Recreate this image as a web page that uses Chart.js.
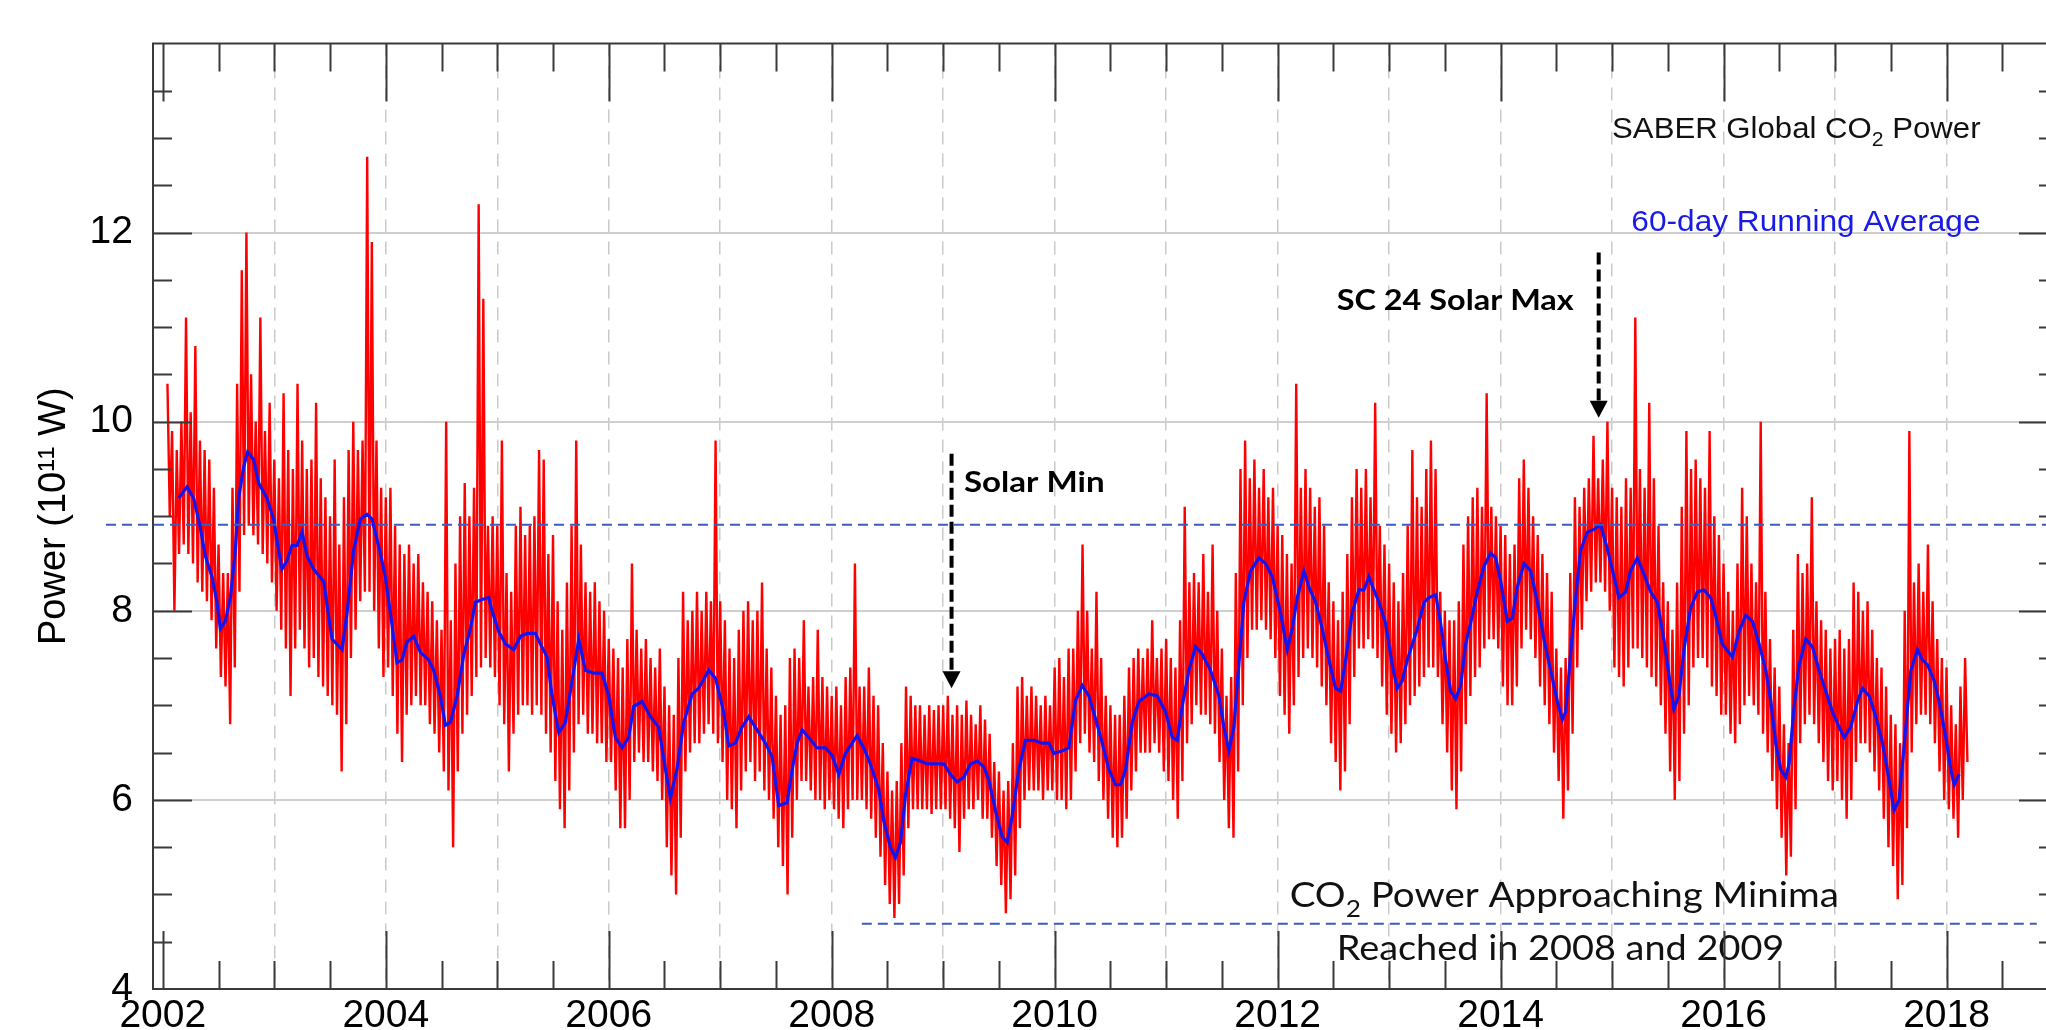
<!DOCTYPE html>
<html>
<head>
<meta charset="utf-8">
<title>SABER Global CO2 Power</title>
<script src="https://cdn.jsdelivr.net/npm/chart.js@4.4.1/dist/chart.umd.min.js"></script>
<style>
  html, body { margin: 0; padding: 0; background: #fff; overflow: hidden; }
  #wrap { position: absolute; left: 0; top: 0; width: 2058px; height: 1040px; }
</style>
</head>
<body>
<div id="wrap"><canvas id="powerChart" width="2058" height="1040"></canvas></div>
<script>
// ---- axis ticks ----
const tickYears = [2002, 2003, 2004, 2005, 2006, 2007, 2008, 2009, 2010, 2011, 2012, 2013, 2014, 2015, 2016, 2017, 2018];
const labelYears = [2002, 2004, 2006, 2008, 2010, 2012, 2014, 2016, 2018];
const powerTicks = [4, 6, 8, 10, 12, 14];

// ---- daily CO2 power (10^11 W), read as half-month high / low envelope ----
const redStart = 2002 + 1 / 24;
const redStep = 1 / 24;
const redHigh = [
  /* 2002 */ 10.4, 9.9, 9.7, 10.0, 11.1, 10.1, 10.8, 9.8, 9.7, 9.6, 9.3, 8.7, 8.4, 8.4, 9.3, 10.4, 11.6, 12.0, 10.5, 10.0, 11.1, 9.9, 10.2,
  /* 2003 */ 9.6, 9.4, 10.3, 9.7, 9.5, 10.4, 9.8, 9.5, 9.6, 10.2, 9.4, 9.2, 9.0, 9.6, 8.7, 9.2, 9.7, 10.0, 9.7, 9.8, 12.8, 11.9, 9.8, 9.3,
  /* 2004 */ 9.2, 9.3, 8.9, 8.7, 8.6, 8.7, 8.5, 8.6, 8.3, 8.2, 8.1, 7.9, 7.8, 10.0, 7.9, 8.5, 9.0, 9.35, 9.0, 9.3, 12.3, 11.3, 8.9, 9.0,
  /* 2005 */ 8.9, 9.8, 8.4, 8.2, 8.9, 9.1, 8.8, 8.9, 9.0, 9.7, 9.6, 8.6, 8.8, 8.1, 7.8, 8.3, 8.9, 9.8, 8.7, 8.3, 8.2, 8.3, 8.1, 8.0,
  /* 2006 */ 7.7, 7.6, 7.5, 7.4, 7.7, 8.5, 7.8, 7.6, 7.7, 7.5, 7.4, 7.6, 7.2, 7.0, 6.9, 7.5, 8.2, 7.9, 8.0, 8.2, 8.0, 8.2, 8.1, 9.8,
  /* 2007 */ 8.1, 7.9, 7.6, 7.5, 7.8, 8.0, 8.1, 7.9, 8.0, 8.3, 7.6, 7.4, 7.1, 6.9, 7.0, 7.5, 7.6, 7.5, 7.9, 7.2, 7.3, 7.8, 7.3, 7.2,
  /* 2008 */ 7.1, 7.2, 7.0, 7.3, 7.4, 8.5, 7.2, 7.2, 7.4, 7.1, 7.0, 6.6, 6.3, 6.1, 6.2, 6.6, 7.2, 7.1, 7.0, 7.0, 6.9, 7.0, 6.95, 7.0,
  /* 2009 */ 7.0, 7.1, 6.9, 7.0, 6.9, 7.05, 6.9, 6.8, 7.0, 6.85, 6.7, 6.4, 6.3, 6.1, 6.2, 6.6, 7.2, 7.3, 7.1, 7.2, 7.1, 7.0, 7.1, 7.0,
  /* 2010 */ 7.4, 7.5, 7.3, 7.6, 7.6, 8.0, 8.7, 8.0, 7.6, 8.2, 7.5, 7.1, 7.0, 6.9, 6.9, 7.1, 7.4, 7.5, 7.6, 7.5, 7.6, 7.9, 7.5, 7.6,
  /* 2011 */ 7.7, 7.5, 7.4, 7.9, 9.1, 8.3, 8.4, 8.3, 8.6, 8.2, 8.7, 8.0, 7.6, 7.1, 7.3, 8.4, 9.5, 9.8, 9.4, 9.6, 9.3, 9.5, 9.2, 9.3,
  /* 2012 */ 8.9, 8.8, 8.6, 8.5, 10.4, 9.3, 9.5, 9.3, 9.1, 9.2, 8.9, 8.3, 8.1, 7.9, 8.2, 8.6, 9.2, 9.5, 9.3, 9.5, 9.2, 10.2, 8.9, 8.7,
  /* 2013 */ 8.5, 8.3, 8.1, 8.4, 8.9, 9.7, 9.2, 9.1, 9.5, 9.8, 9.5, 8.2, 8.0, 7.9, 7.9, 8.1, 8.7, 9.0, 9.2, 9.3, 9.1, 10.3, 9.1, 9.0,
  /* 2014 */ 8.9, 8.8, 8.6, 8.7, 9.4, 9.6, 9.3, 9.0, 8.8, 8.6, 8.4, 8.2, 7.6, 7.4, 7.5, 8.4, 9.2, 9.1, 9.3, 9.4, 9.85, 9.4, 9.6, 10.0,
  /* 2015 */ 9.3, 9.2, 9.1, 9.4, 9.3, 11.1, 9.5, 9.3, 10.2, 9.4, 8.9, 8.3, 8.1, 7.8, 8.3, 9.1, 9.9, 9.5, 9.6, 9.4, 9.3, 9.9, 9.0, 8.8,
  /* 2016 */ 8.5, 8.2, 8.0, 8.5, 9.3, 9.0, 8.5, 8.3, 10.0, 8.2, 7.7, 7.4, 7.2, 6.8, 6.6, 7.8, 8.6, 8.4, 8.5, 9.2, 8.1, 7.9, 7.8, 7.6,
  /* 2017 */ 7.7, 7.8, 7.6, 7.7, 8.3, 8.2, 8.0, 8.1, 7.8, 7.5, 7.4, 7.2, 6.9, 6.8, 6.6, 8.0, 9.9, 8.3, 8.5, 8.2, 8.7, 8.1, 7.7, 7.5,
  /* 2018 */ 7.4, 7.0, 6.8, 7.2, 7.5
];
const redLow = [
  /* 2002 */ 9.0, 8.0, 8.6, 8.7, 8.6, 8.5, 8.3, 8.2, 8.1, 7.9, 7.6, 7.3, 7.2, 6.8, 7.4, 8.2, 8.8, 8.9, 8.8, 8.7, 8.6, 8.5, 8.3,
  /* 2003 */ 8.0, 7.8, 7.6, 7.1, 7.6, 7.8, 7.6, 7.4, 7.5, 7.3, 7.2, 7.1, 7.0, 6.9, 6.3, 6.8, 7.5, 7.8, 8.1, 8.2, 8.2, 8.0, 7.6, 7.3,
  /* 2004 */ 7.4, 7.1, 6.7, 6.4, 6.9, 7.0, 7.1, 7.0, 7.0, 6.8, 6.7, 6.5, 6.3, 6.1, 5.5, 6.3, 6.7, 6.9, 7.1, 7.3, 7.4, 7.5, 7.4, 7.3,
  /* 2005 */ 7.0, 6.8, 6.3, 6.7, 6.9, 7.0, 7.0, 6.9, 7.0, 6.9, 6.7, 6.5, 6.2, 5.9, 5.7, 6.1, 6.5, 6.8, 6.9, 6.7, 6.7, 6.6, 6.6, 6.4,
  /* 2006 */ 6.4, 6.1, 5.7, 5.7, 6.0, 6.4, 6.5, 6.4, 6.4, 6.3, 6.2, 6.0, 5.5, 5.2, 5.0, 5.6, 6.3, 6.5, 6.6, 6.6, 6.7, 6.8, 6.7, 6.6,
  /* 2007 */ 6.4, 6.0, 5.9, 5.7, 6.1, 6.3, 6.4, 6.2, 6.3, 6.1, 6.0, 5.8, 5.5, 5.3, 5.0, 5.6, 6.0, 6.2, 6.2, 6.1, 6.0, 6.0, 5.9, 6.0,
  /* 2008 */ 5.9, 5.8, 5.7, 5.9, 6.0, 6.0, 6.0, 5.9, 5.8, 5.6, 5.4, 5.1, 4.9, 4.75, 4.9, 5.2, 5.7, 5.9, 5.9, 5.9, 5.9, 5.85, 5.9, 5.9,
  /* 2009 */ 5.9, 5.8, 5.7, 5.45, 5.8, 5.9, 5.9, 6.0, 5.8, 5.8, 5.6, 5.3, 5.1, 4.8, 4.95, 5.2, 5.7, 6.0, 6.1, 6.1, 6.1, 6.0, 6.1, 6.1,
  /* 2010 */ 6.0, 6.0, 5.9, 6.0, 6.3, 6.6, 6.7, 6.5, 6.4, 6.2, 6.0, 5.8, 5.6, 5.5, 5.6, 5.8, 6.1, 6.3, 6.5, 6.5, 6.5, 6.6, 6.5, 6.3,
  /* 2011 */ 6.2, 6.0, 5.8, 6.2, 6.6, 6.8, 7.0, 6.9, 6.9, 6.8, 6.7, 6.4, 6.0, 5.7, 5.6, 6.3, 7.0, 7.5, 7.8, 7.8, 7.9, 7.8, 7.7, 7.5,
  /* 2012 */ 7.1, 6.9, 6.7, 7.0, 7.3, 7.5, 7.6, 7.5, 7.4, 7.2, 7.0, 6.6, 6.4, 6.1, 6.3, 6.8, 7.3, 7.6, 7.6, 7.7, 7.6, 7.5, 7.2, 6.9,
  /* 2013 */ 6.7, 6.5, 6.6, 6.8, 7.0, 7.1, 7.2, 7.3, 7.4, 7.4, 7.3, 6.8, 6.5, 6.1, 5.9, 6.3, 6.8, 7.1, 7.3, 7.4, 7.6, 7.7, 7.7, 7.6,
  /* 2014 */ 7.2, 7.0, 7.0, 7.2, 7.6, 7.8, 7.7, 7.5, 7.2, 7.0, 6.8, 6.5, 6.2, 5.8, 6.1, 6.7, 7.4, 7.8, 8.1, 8.2, 8.3, 8.3, 8.2, 8.0,
  /* 2015 */ 7.4, 7.3, 7.2, 7.4, 7.6, 7.6, 7.5, 7.4, 7.3, 7.2, 7.0, 6.7, 6.3, 6.0, 6.2, 6.7, 7.0, 7.4, 7.5, 7.5, 7.4, 7.2, 7.1, 6.9,
  /* 2016 */ 6.9, 6.7, 6.6, 6.8, 7.0, 7.1, 7.0, 6.9, 6.7, 6.5, 6.2, 5.9, 5.6, 5.2, 5.4, 5.9, 6.6, 6.8, 6.9, 6.8, 6.6, 6.4, 6.2, 6.1,
  /* 2017 */ 6.2, 6.0, 5.8, 6.0, 6.4, 6.6, 6.6, 6.5, 6.3, 6.1, 5.8, 5.5, 5.3, 4.95, 5.1, 5.7, 6.5, 6.8, 6.9, 6.9, 6.8, 6.6, 6.3, 6.0,
  /* 2018 */ 5.9, 5.8, 5.6, 6.0, 6.4
];

// ---- 60-day running average ----
const blueYears = [
  2002.142, 2002.217, 2002.277, 2002.336, 2002.381, 2002.441, 2002.486, 2002.516, 2002.561, 2002.606, 2002.651, 2002.680, 2002.725, 2002.761, 2002.815, 2002.860, 2002.935, 2002.994,
  2003.039, 2003.069, 2003.114, 2003.159, 2003.204, 2003.249, 2003.294, 2003.353, 2003.443, 2003.518, 2003.608, 2003.653, 2003.712, 2003.772, 2003.832, 2003.877, 2003.951, 2003.996,
  2004.041, 2004.101, 2004.146, 2004.191, 2004.251, 2004.311, 2004.385, 2004.430, 2004.490, 2004.535, 2004.580, 2004.640, 2004.700, 2004.759, 2004.804, 2004.864, 2004.924, 2004.953,
  2005.013, 2005.073, 2005.148, 2005.208, 2005.267, 2005.342, 2005.387, 2005.447, 2005.492, 2005.552, 2005.611, 2005.671, 2005.731, 2005.791, 2005.866, 2005.940,
  2006.000, 2006.060, 2006.120, 2006.179, 2006.224, 2006.299, 2006.374, 2006.448, 2006.508, 2006.553, 2006.613, 2006.673, 2006.748, 2006.807, 2006.897, 2006.957,
  2007.031, 2007.076, 2007.136, 2007.196, 2007.256, 2007.315, 2007.405, 2007.465, 2007.525, 2007.600, 2007.645, 2007.690, 2007.735, 2007.795, 2007.869, 2007.944,
  2008.004, 2008.064, 2008.123, 2008.183, 2008.228, 2008.288, 2008.347, 2008.422, 2008.467, 2008.527, 2008.572, 2008.617, 2008.662, 2008.721, 2008.796, 2008.856, 2008.931,
  2009.006, 2009.065, 2009.125, 2009.185, 2009.245, 2009.305, 2009.364, 2009.409, 2009.469, 2009.529, 2009.574, 2009.619, 2009.679, 2009.738, 2009.813, 2009.888, 2009.948, 2009.993,
  2010.067, 2010.127, 2010.187, 2010.247, 2010.307, 2010.366, 2010.427, 2010.487, 2010.546, 2010.591, 2010.636, 2010.696, 2010.756, 2010.845, 2010.920, 2010.995,
  2011.055, 2011.100, 2011.144, 2011.204, 2011.264, 2011.324, 2011.398, 2011.473, 2011.518, 2011.563, 2011.608, 2011.652, 2011.697, 2011.757, 2011.832, 2011.892, 2011.952,
  2012.026, 2012.086, 2012.131, 2012.176, 2012.236, 2012.281, 2012.341, 2012.400, 2012.460, 2012.520, 2012.565, 2012.610, 2012.669, 2012.729, 2012.774, 2012.819, 2012.864, 2012.909, 2012.968,
  2013.028, 2013.073, 2013.118, 2013.163, 2013.253, 2013.313, 2013.358, 2013.418, 2013.462, 2013.507, 2013.552, 2013.597, 2013.642, 2013.687, 2013.731, 2013.791, 2013.851, 2013.911, 2013.956,
  2014.001, 2014.061, 2014.105, 2014.150, 2014.210, 2014.270, 2014.330, 2014.389, 2014.449, 2014.509, 2014.554, 2014.584, 2014.628, 2014.673, 2014.718, 2014.778, 2014.838, 2014.897, 2014.957,
  2015.017, 2015.062, 2015.122, 2015.166, 2015.226, 2015.286, 2015.346, 2015.406, 2015.465, 2015.510, 2015.555, 2015.600, 2015.645, 2015.705, 2015.764, 2015.824, 2015.884, 2015.929, 2015.988,
  2016.080, 2016.139, 2016.199, 2016.259, 2016.319, 2016.379, 2016.424, 2016.468, 2016.513, 2016.558, 2016.588, 2016.633, 2016.678, 2016.738, 2016.797, 2016.857, 2016.917, 2016.977,
  2017.037, 2017.082, 2017.141, 2017.201, 2017.246, 2017.306, 2017.366, 2017.426, 2017.485, 2017.530, 2017.575, 2017.635, 2017.680, 2017.740, 2017.784, 2017.829, 2017.889, 2017.934, 2017.994,
  2018.039, 2018.069, 2018.113
];
const bluePower = [
  9.19, 9.31, 9.19, 8.88, 8.58, 8.36, 8.09, 7.81, 7.89, 8.14, 8.64, 9.19, 9.52, 9.68, 9.60, 9.35, 9.19, 8.97,
  8.64, 8.44, 8.53, 8.69, 8.69, 8.83, 8.58, 8.44, 8.31, 7.70, 7.59, 7.98, 8.64, 8.97, 9.02, 8.97, 8.61, 8.36,
  7.98, 7.45, 7.48, 7.67, 7.73, 7.56, 7.48, 7.37, 7.10, 6.79, 6.82, 7.10, 7.54, 7.81, 8.09, 8.12, 8.14, 8.00,
  7.78, 7.65, 7.59, 7.73, 7.76, 7.76, 7.65, 7.51, 7.10, 6.71, 6.82, 7.26, 7.70, 7.37, 7.34, 7.34,
  7.10, 6.66, 6.55, 6.66, 6.99, 7.04, 6.88, 6.77, 6.33, 6.02, 6.33, 6.82, 7.12, 7.18, 7.37, 7.29,
  6.93, 6.57, 6.60, 6.77, 6.88, 6.77, 6.60, 6.46, 5.94, 5.97, 6.32, 6.60, 6.74, 6.66, 6.55, 6.55,
  6.47, 6.27, 6.49, 6.60, 6.68, 6.55, 6.38, 6.11, 5.78, 5.50, 5.39, 5.55, 6.05, 6.44, 6.41, 6.38, 6.38,
  6.38, 6.27, 6.19, 6.24, 6.38, 6.41, 6.35, 6.21, 5.89, 5.61, 5.55, 5.83, 6.32, 6.63, 6.63, 6.60, 6.60, 6.49,
  6.52, 6.55, 7.05, 7.21, 7.10, 6.86, 6.60, 6.32, 6.16, 6.16, 6.32, 6.82, 7.04, 7.12, 7.10, 6.93,
  6.66, 6.63, 6.99, 7.37, 7.62, 7.54, 7.37, 7.10, 6.77, 6.52, 6.77, 7.43, 8.09, 8.42, 8.56, 8.50, 8.36,
  7.98, 7.59, 7.81, 8.14, 8.42, 8.25, 8.09, 7.81, 7.48, 7.18, 7.15, 7.48, 7.98, 8.22, 8.22, 8.36, 8.22, 8.09, 7.87,
  7.43, 7.18, 7.26, 7.48, 7.81, 8.09, 8.14, 8.17, 7.87, 7.48, 7.15, 7.07, 7.21, 7.65, 7.87, 8.20, 8.47, 8.61, 8.56,
  8.31, 7.89, 7.92, 8.25, 8.50, 8.42, 8.09, 7.70, 7.37, 7.04, 6.85, 6.93, 7.54, 8.14, 8.64, 8.83, 8.86, 8.91, 8.66,
  8.36, 8.14, 8.20, 8.42, 8.56, 8.39, 8.20, 8.09, 7.70, 7.32, 6.96, 7.10, 7.59, 8.03, 8.20, 8.22, 8.14, 7.95, 7.65,
  7.51, 7.78, 7.95, 7.89, 7.65, 7.37, 7.04, 6.60, 6.32, 6.24, 6.38, 6.99, 7.43, 7.70, 7.62, 7.37, 7.15, 6.93,
  6.77, 6.66, 6.77, 7.04, 7.18, 7.10, 6.88, 6.60, 6.21, 5.89, 6.00, 6.77, 7.37, 7.59, 7.48, 7.43, 7.26, 7.04, 6.66,
  6.32, 6.16, 6.27
];

// ---- dashed reference levels ----
const refPower = [8.91, 4.69];
const refFrom = [2001.49, 2008.27];
const refTo = [2019.2, 2018.81];

// ---- arrows (year, top value, tip value) ----
const arrowYears = [2009.075, 2014.88];
const arrowTop = [9.66, 11.79];
const arrowTip = [7.18, 10.04];

// ---- text annotations, anchored in data units (left year, right year, baseline) ----
const notes = [
  { parts: [{ t: 'SABER Global CO' }, { t: '2', sub: true }, { t: ' Power' }], x0: 2015.0, x1: 2018.305, base: 13.0,
    family: '"Liberation Sans", Arial, sans-serif', weight: 400, size: 30, color: '#111111' },
  { parts: [{ t: '60-day Running Average' }], x0: 2015.173, x1: 2018.305, base: 12.016,
    family: '"Liberation Sans", Arial, sans-serif', weight: 400, size: 30, color: '#1a1ae6' },
  { parts: [{ t: 'SC 24 Solar Max' }], x0: 2012.53, x1: 2014.656, base: 11.18,
    family: 'Lato, "Open Sans", sans-serif', weight: 700, size: 28, color: '#000000' },
  { parts: [{ t: 'Solar Min' }], x0: 2009.186, x1: 2010.448, base: 9.259,
    family: 'Lato, "Open Sans", sans-serif', weight: 700, size: 29, color: '#000000' },
  { parts: [{ t: 'CO' }, { t: '2', sub: true }, { t: ' Power Approaching Minima' }], x0: 2012.108, x1: 2017.034, base: 4.862,
    family: 'Lato, "Open Sans", sans-serif', weight: 400, size: 35, color: '#111111' },
  { parts: [{ t: 'Reached in 2008 and 2009' }], x0: 2012.53, x1: 2016.545, base: 4.31,
    family: 'Lato, "Open Sans", sans-serif', weight: 400, size: 35, color: '#111111' }
];

// build point lists from the arrays
const redPoints = [];
for (let i = 0; i < Math.min(redHigh.length, redLow.length); i++) {
  const t = redStart + i * redStep;
  redPoints.push({ x: t, y: redHigh[i] });
  redPoints.push({ x: t + redStep / 2, y: redLow[i] });
}
const bluePoints = blueYears.map((t, i) => ({ x: t, y: bluePower[i] }));
const refSets = refPower.map((v, i) => ({
  data: [{ x: refFrom[i], y: v }, { x: refTo[i], y: v }],
  borderColor: '#3d5cc0',
  borderWidth: 2,
  borderDash: [10, 6],
  pointRadius: 0,
  clip: false,
  order: 0
}));

function drawNote(ctx, note, xs, ys) {
  const left = xs.getPixelForValue(note.x0);
  const right = xs.getPixelForValue(note.x1);
  const base = ys.getPixelForValue(note.base);
  const subSize = note.size * 0.68;
  const fontFor = (p) => `${note.weight} ${p.sub ? subSize : note.size}px ${note.family}`;
  const widths = note.parts.map(p => { ctx.font = fontFor(p); return ctx.measureText(p.t).width; });
  const total = widths.reduce((a, b) => a + b, 0);
  ctx.save();
  ctx.translate(left, base);
  ctx.scale((right - left) / total, 1);
  ctx.fillStyle = note.color;
  ctx.textAlign = 'left';
  ctx.textBaseline = 'alphabetic';
  let cx = 0;
  note.parts.forEach((p, i) => {
    ctx.font = fontFor(p);
    ctx.fillText(p.t, cx, p.sub ? note.size * 0.26 : 0);
    cx += widths[i];
  });
  ctx.restore();
}

function drawArrow(ctx, x, yTop, yTip) {
  const head = 17;
  ctx.save();
  ctx.strokeStyle = '#000';
  ctx.fillStyle = '#000';
  ctx.lineWidth = 4;
  ctx.setLineDash([12, 5]);
  ctx.beginPath();
  ctx.moveTo(x, yTop);
  ctx.lineTo(x, yTip - head + 1);
  ctx.stroke();
  ctx.setLineDash([]);
  ctx.beginPath();
  ctx.moveTo(x - 9, yTip - head);
  ctx.lineTo(x + 9, yTip - head);
  ctx.lineTo(x, yTip);
  ctx.closePath();
  ctx.fill();
  ctx.restore();
}

const annotations = {
  id: 'annotations',
  afterDatasetsDraw(chart) {
    const { ctx, scales: { x, y } } = chart;
    arrowYears.forEach((t, i) => {
      drawArrow(ctx, x.getPixelForValue(t), y.getPixelForValue(arrowTop[i]), y.getPixelForValue(arrowTip[i]));
    });
    notes.forEach(n => drawNote(ctx, n, x, y));
  }
};

const frameTicks = {
  id: 'frameTicks',
  afterDraw(chart) {
    const { ctx, chartArea: a, scales: { x, y } } = chart;
    ctx.save();
    ctx.strokeStyle = '#3a3a3a';
    ctx.lineWidth = 2;
    ctx.beginPath();
    ctx.rect(a.left, a.top, a.right - a.left, a.bottom - a.top);
    for (let t = 2002; t <= 2019; t += 0.5) {
      const px = Math.round(x.getPixelForValue(t)) + 0.5;
      const len = t % 2 === 0 ? 58 : 28;
      ctx.moveTo(px, a.bottom); ctx.lineTo(px, a.bottom - len);
      ctx.moveTo(px, a.top); ctx.lineTo(px, a.top + len);
    }
    for (let v = 4.5; v < 14; v += 0.5) {
      const py = Math.round(y.getPixelForValue(v)) + 0.5;
      const len = v % 2 === 0 ? 39 : 19;
      ctx.moveTo(a.left, py); ctx.lineTo(a.left + len, py);
      ctx.moveTo(a.right, py); ctx.lineTo(a.right - len, py);
    }
    ctx.stroke();
    ctx.restore();
  }
};

const axisFont = { family: '"Liberation Sans", Arial, sans-serif', size: 39 };

new Chart(document.getElementById('powerChart'), {
  type: 'line',
  data: {
    datasets: [
      ...refSets,
      { data: bluePoints, borderColor: '#1414f0', borderWidth: 3.2, pointRadius: 0, order: 1 },
      { data: redPoints, borderColor: '#ff0000', borderWidth: 2.4, pointRadius: 0, borderJoinStyle: 'bevel', order: 2 }
    ]
  },
  options: {
    responsive: false,
    animation: false,
    devicePixelRatio: 1,
    layout: { padding: { top: 38, left: 0, right: 0, bottom: 0 } },
    plugins: { legend: { display: false }, tooltip: { enabled: false } },
    scales: {
      x: {
        type: 'linear',
        min: 2001.912,
        max: 2019,
        afterBuildTicks: s => { s.ticks = tickYears.map(v => ({ value: v })); },
        afterFit: s => { s.height = 51; },
        ticks: {
          autoSkip: false, maxRotation: 0, padding: 4, color: '#000', font: axisFont,
          callback: v => labelYears.includes(v) ? String(v) : ''
        },
        grid: {
          drawTicks: false,
          lineWidth: 1.5,
          color: c => (c.tick && c.tick.value === 2002) ? 'rgba(0,0,0,0)' : '#c9c9c9'
        },
        border: { display: false, dash: [13, 9] }
      },
      y: {
        type: 'linear',
        min: 4,
        max: 14,
        afterBuildTicks: s => { s.ticks = powerTicks.map(v => ({ value: v })); },
        afterFit: s => { s.width = 153; },
        ticks: {
          padding: 20, color: '#000', font: axisFont,
          callback: v => v === 14 ? '' : String(v)
        },
        grid: {
          drawTicks: false,
          lineWidth: 2,
          color: c => (c.tick && (c.tick.value === 4 || c.tick.value === 14)) ? 'rgba(0,0,0,0)' : '#cfcfcf'
        },
        border: { display: false },
        title: {
          display: true,
          text: 'Power (10\u00B9\u00B9 W)',
          color: '#000',
          font: { family: '"Liberation Sans", Arial, sans-serif', size: 38 },
          padding: { top: 32, bottom: 0 }
        }
      }
    }
  },
  plugins: [annotations, frameTicks]
});
</script>
</body>
</html>
